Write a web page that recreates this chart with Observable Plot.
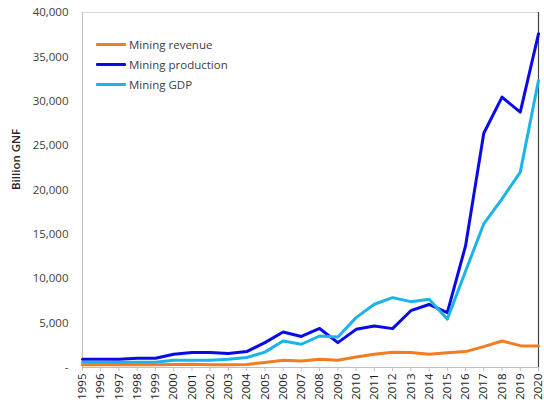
<!DOCTYPE html>
<html>
<head>
<meta charset="utf-8">
<script src="https://cdn.jsdelivr.net/npm/d3@7"></script>
<script src="https://cdn.jsdelivr.net/npm/@observablehq/plot@0.6"></script>
<style>
  html, body { margin: 0; padding: 0; background: #fff; }
  #wrap { position: relative; width: 544px; height: 405px; font-family: "Open Sans", sans-serif; }
  #legend { position: absolute; left: 96px; top: 34px; font-size: 11.5px; color: #404040; }
  #legend .item { display: flex; align-items: center; height: 20px; }
  #legend .sw { width: 30px; height: 3px; margin-right: 3px; border-radius: 1px; }
</style>
</head>
<body>
<div id="wrap"></div>
<script>
const years = d3.range(1995, 2021);
const seriesNames = ["Mining revenue", "Mining production", "Mining GDP"];
const seriesColors = ["#F47B20", "#0A0AE6", "#1CB3EA"];
const revenue = [300, 300, 300, 310, 310, 330, 360, 300, 310, 350, 570, 810, 740, 930, 810, 1190, 1490, 1720, 1680, 1490, 1670, 1790, 2350, 2990, 2460, 2430];
const production = [920, 920, 920, 1040, 1040, 1490, 1680, 1680, 1570, 1790, 2800, 4000, 3500, 4400, 2800, 4300, 4680, 4380, 6400, 7100, 6180, 13700, 26400, 30460, 28770, 37600];
const gdp = [600, 600, 550, 600, 600, 810, 810, 810, 920, 1120, 1730, 2990, 2620, 3550, 3440, 5620, 7130, 7870, 7420, 7690, 5450, 10850, 16190, 19010, 22010, 32340];
const yTicks = [0, 5000, 10000, 15000, 20000, 25000, 30000, 35000, 40000];

const valuesBySeries = [revenue, production, gdp];
const data = [];
seriesNames.forEach((s, i) => years.forEach((y, j) => data.push({series: s, year: y, value: valuesBySeries[i][j]})));

const chart = Plot.plot({
  width: 544,
  height: 405,
  marginLeft: 82,
  marginRight: 6,
  marginTop: 12,
  marginBottom: 38,
  style: {fontFamily: "Open Sans, sans-serif", fontSize: "11.5px", background: "#fff"},
  x: {domain: [1995, 2020]},
  y: {domain: [0, 40000]},
  color: {domain: seriesNames, range: seriesColors},
  marks: [
    Plot.ruleY([40000], {stroke: "#d9d9d9", strokeWidth: 1}),
    Plot.ruleX([2020], {stroke: "#404040", strokeWidth: 1.2}),
    Plot.axisY({
      ticks: yTicks,
      tickSize: 0,
      tickPadding: 14,
      tickFormat: d => d === 0 ? "-" : d3.format(",")(d),
      fill: "#404040",
      label: null
    }),
    Plot.ruleX([1995], {stroke: "#bfbfbf"}),
    Plot.ruleY([0], {stroke: "#bfbfbf"}),
    Plot.axisX({
      ticks: years,
      tickFormat: d => String(d),
      tickRotate: -90,
      tickSize: 4,
      tickPadding: 2,
      stroke: "#bfbfbf",
      fill: "#1a1a1a",
      label: null
    }),
    Plot.text(["Billion GNF"], {
      frameAnchor: "left", dx: -66, rotate: -90,
      fontSize: 11.5, fontWeight: 600, fill: "#262626"
    }),
    Plot.line(data, {
      x: "year", y: "value", z: "series", stroke: "series",
      strokeWidth: 3, strokeLinejoin: "round", strokeLinecap: "round"
    })
  ]
});

const wrap = document.getElementById("wrap");
wrap.appendChild(chart);
const legend = document.createElement("div");
legend.id = "legend";
seriesNames.forEach((s, i) => {
  const item = document.createElement("div");
  item.className = "item";
  const sw = document.createElement("div");
  sw.className = "sw";
  sw.style.background = seriesColors[i];
  const t = document.createElement("span");
  t.textContent = s;
  item.appendChild(sw);
  item.appendChild(t);
  legend.appendChild(item);
});
wrap.appendChild(legend);
</script>
</body>
</html>
